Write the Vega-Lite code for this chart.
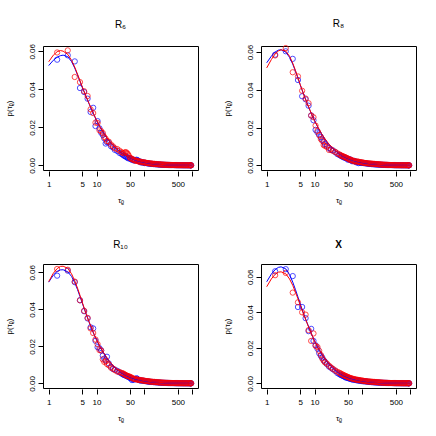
{
  "$schema": "https://vega.github.io/schema/vega-lite/v6.json",
  "padding": {"left": 4, "top": 18, "right": 0, "bottom": 0},
  "bounds": "flush",
  "spacing": {"row": 94, "column": 63},
  "columns": 2,
  "config": {
    "font": "Liberation Sans",
    "view": {"stroke": "#000000", "strokeWidth": 1},
    "axis": {"domain": false, "grid": false, "tickColor": "#000000", "tickSize": 5, "tickWidth": 1, "labelColor": "#000000", "labelFontSize": 8, "titleFontSize": 8, "titleFontWeight": "normal", "titleColor": "#000000", "labelFont": "Liberation Sans", "titleFont": "Liberation Sans", "labelOverlap": false, "labelFlush": false},
    "title": {"fontSize": 10, "fontWeight": "normal", "color": "#000000", "offset": 14, "font": "Liberation Sans"},
    "point": {"shape": "circle", "filled": false, "strokeWidth": 1, "size": 28, "clip": true},
    "line": {"strokeWidth": 1, "clip": true}
  },
  "datasets": {
    "p1": [
      {"s":"B","x":1.5,"y":0.0556},{"s":"B","x":2.5,"y":0.0579},{"s":"B","x":3.5,"y":0.0547},{"s":"B","x":4.5,"y":0.0407},{"s":"B","x":5.5,"y":0.0386},{"s":"B","x":6.5,"y":0.0351},{"s":"B","x":7.5,"y":0.0281},{"s":"B","x":8.5,"y":0.0303},{"s":"B","x":9.5,"y":0.0207},{"s":"B","x":10.5,"y":0.0233},{"s":"B","x":11.5,"y":0.0195},{"s":"B","x":12.5,"y":0.0172},{"s":"B","x":13.5,"y":0.016},{"s":"B","x":14.5,"y":0.0142},{"s":"B","x":15.5,"y":0.0115},{"s":"B","x":16.5,"y":0.0122},{"s":"B","x":18,"y":0.012},{"s":"B","x":20,"y":0.0101},{"s":"B","x":22,"y":0.0095},{"s":"B","x":24,"y":0.0082},{"s":"B","x":27,"y":0.0076},{"s":"B","x":30,"y":0.0066},{"s":"B","x":33,"y":0.0061},{"s":"B","x":37,"y":0.0052},{"s":"B","x":41,"y":0.0046},{"s":"B","x":45,"y":0.0038},{"s":"B","x":50,"y":0.0034},{"s":"B","x":55,"y":0.0029},{"s":"B","x":61,"y":0.0025},{"s":"B","x":68,"y":0.003},{"s":"B","x":75,"y":0.0024},{"s":"B","x":83,"y":0.0016},{"s":"B","x":92,"y":0.0014},{"s":"B","x":102,"y":0.0012},{"s":"B","x":113,"y":0.0011},{"s":"B","x":125,"y":0.0009},{"s":"B","x":139,"y":0.0008},{"s":"B","x":154,"y":0.0007},{"s":"B","x":171,"y":0.0006},{"s":"B","x":190,"y":0.0005},{"s":"B","x":211,"y":0.0004},{"s":"B","x":234,"y":0.00035},{"s":"B","x":260,"y":0.0003},{"s":"B","x":289,"y":0.00026},{"s":"B","x":321,"y":0.00022},{"s":"B","x":356,"y":0.00018},{"s":"B","x":395,"y":0.00015},{"s":"B","x":438,"y":0.00012},{"s":"B","x":486,"y":0.0001},{"s":"B","x":540,"y":0.00009},{"s":"B","x":599,"y":0.00007},{"s":"B","x":665,"y":0.00006},{"s":"B","x":738,"y":0.00005},{"s":"B","x":819,"y":0.00004},{"s":"B","x":909,"y":0.00004},{"s":"B","x":950,"y":0.00003},
      {"s":"B","x":35,"y":0.0057},{"s":"B","x":39,"y":0.0049},{"s":"B","x":43,"y":0.0043},{"s":"B","x":47,"y":0.004},{"s":"B","x":52,"y":0.0036},{"s":"B","x":58,"y":0.0031},{"s":"B","x":64,"y":0.0027},{"s":"B","x":71,"y":0.0028},{"s":"B","x":79,"y":0.0021},{"s":"B","x":87,"y":0.0018},{"s":"B","x":97,"y":0.0016},{"s":"B","x":107,"y":0.0013},{"s":"B","x":119,"y":0.0011},{"s":"B","x":132,"y":0.00095},{"s":"B","x":146,"y":0.0008},{"s":"B","x":162,"y":0.0007},{"s":"B","x":180,"y":0.0006},{"s":"B","x":200,"y":0.0005},{"s":"B","x":222,"y":0.00042},{"s":"B","x":247,"y":0.00035},{"s":"B","x":274,"y":0.0003},{"s":"B","x":305,"y":0.00025},{"s":"B","x":338,"y":0.0002},{"s":"B","x":375,"y":0.00017},{"s":"B","x":416,"y":0.00014},{"s":"B","x":462,"y":0.00012},{"s":"B","x":513,"y":0.0001},{"s":"B","x":569,"y":0.00008},{"s":"B","x":632,"y":0.00007},{"s":"B","x":701,"y":0.00006},{"s":"B","x":778,"y":0.00005},{"s":"B","x":864,"y":0.00004},{"s":"B","x":930,"y":0.00004},
      {"s":"R","x":1.5,"y":0.0594},{"s":"R","x":2.5,"y":0.0605},{"s":"R","x":3.5,"y":0.0465},{"s":"R","x":4.5,"y":0.0438},{"s":"R","x":5.5,"y":0.039},{"s":"R","x":6.5,"y":0.0365},{"s":"R","x":7.5,"y":0.0295},{"s":"R","x":8.5,"y":0.0275},{"s":"R","x":9.5,"y":0.0225},{"s":"R","x":10.5,"y":0.0223},{"s":"R","x":11.5,"y":0.0185},{"s":"R","x":12.5,"y":0.018},{"s":"R","x":13.5,"y":0.017},{"s":"R","x":14.5,"y":0.015},{"s":"R","x":15.5,"y":0.014},{"s":"R","x":16.5,"y":0.0128},{"s":"R","x":18,"y":0.0125},{"s":"R","x":20,"y":0.011},{"s":"R","x":22,"y":0.01},{"s":"R","x":24,"y":0.009},{"s":"R","x":27,"y":0.0086},{"s":"R","x":30,"y":0.0078},{"s":"R","x":33,"y":0.007},{"s":"R","x":37,"y":0.0064},{"s":"R","x":41,"y":0.007},{"s":"R","x":45,"y":0.006},{"s":"R","x":50,"y":0.004},{"s":"R","x":55,"y":0.0033},{"s":"R","x":61,"y":0.0027},{"s":"R","x":68,"y":0.0024},{"s":"R","x":75,"y":0.0021},{"s":"R","x":83,"y":0.0019},{"s":"R","x":92,"y":0.0016},{"s":"R","x":102,"y":0.0015},{"s":"R","x":113,"y":0.0013},{"s":"R","x":125,"y":0.0011},{"s":"R","x":139,"y":0.001},{"s":"R","x":154,"y":0.0008},{"s":"R","x":171,"y":0.0007},{"s":"R","x":190,"y":0.0006},{"s":"R","x":211,"y":0.0005},{"s":"R","x":234,"y":0.00045},{"s":"R","x":260,"y":0.00038},{"s":"R","x":289,"y":0.0003},{"s":"R","x":321,"y":0.00026},{"s":"R","x":356,"y":0.00022},{"s":"R","x":395,"y":0.00018},{"s":"R","x":438,"y":0.00015},{"s":"R","x":486,"y":0.00013},{"s":"R","x":540,"y":0.00011},{"s":"R","x":599,"y":0.00009},{"s":"R","x":665,"y":0.00008},{"s":"R","x":738,"y":0.00007},{"s":"R","x":819,"y":0.00006},{"s":"R","x":909,"y":0.00005},{"s":"R","x":950,"y":0.00005},
      {"s":"R","x":35,"y":0.0066},{"s":"R","x":39,"y":0.0068},{"s":"R","x":43,"y":0.0065},{"s":"R","x":47,"y":0.0052},{"s":"R","x":52,"y":0.0038},{"s":"R","x":58,"y":0.0031},{"s":"R","x":64,"y":0.0026},{"s":"R","x":71,"y":0.0023},{"s":"R","x":79,"y":0.002},{"s":"R","x":87,"y":0.0018},{"s":"R","x":97,"y":0.0016},{"s":"R","x":107,"y":0.0014},{"s":"R","x":119,"y":0.0012},{"s":"R","x":132,"y":0.001},{"s":"R","x":146,"y":0.0009},{"s":"R","x":162,"y":0.0008},{"s":"R","x":180,"y":0.0007},{"s":"R","x":200,"y":0.0006},{"s":"R","x":222,"y":0.0005},{"s":"R","x":247,"y":0.0004},{"s":"R","x":274,"y":0.00034},{"s":"R","x":305,"y":0.00028},{"s":"R","x":338,"y":0.00024},{"s":"R","x":375,"y":0.0002},{"s":"R","x":416,"y":0.00017},{"s":"R","x":462,"y":0.00014},{"s":"R","x":513,"y":0.00012},{"s":"R","x":569,"y":0.0001},{"s":"R","x":632,"y":0.00009},{"s":"R","x":701,"y":0.00008},{"s":"R","x":778,"y":0.00007},{"s":"R","x":864,"y":0.00006},{"s":"R","x":930,"y":0.00005}
    ],
    "c1": [
      {"s":"B","x":1,"y":0.0525},{"s":"B","x":1.25,"y":0.0553},{"s":"B","x":1.5,"y":0.0569},{"s":"B","x":1.75,"y":0.0577},{"s":"B","x":2,"y":0.058},{"s":"B","x":2.5,"y":0.0572},{"s":"B","x":3,"y":0.0546},{"s":"B","x":3.5,"y":0.0512},{"s":"B","x":4,"y":0.0476},{"s":"B","x":4.5,"y":0.0442},{"s":"B","x":5,"y":0.0412},{"s":"B","x":6,"y":0.0363},{"s":"B","x":7,"y":0.0323},{"s":"B","x":8,"y":0.029},{"s":"B","x":9,"y":0.0261},{"s":"B","x":10,"y":0.0235},{"s":"B","x":12,"y":0.0199},{"s":"B","x":14,"y":0.017},{"s":"B","x":16,"y":0.0148},{"s":"B","x":18,"y":0.0131},{"s":"B","x":20,"y":0.0117},{"s":"B","x":25,"y":0.0091},{"s":"B","x":30,"y":0.0073},{"s":"B","x":40,"y":0.0051},{"s":"B","x":50,"y":0.0039},{"s":"B","x":60,"y":0.0031},{"s":"B","x":80,"y":0.0021},{"s":"B","x":100,"y":0.00155},{"s":"B","x":150,"y":0.00085},{"s":"B","x":200,"y":0.00055},{"s":"B","x":300,"y":0.00028},{"s":"B","x":500,"y":0.00012},{"s":"B","x":700,"y":0.00007},{"s":"B","x":1000,"y":0.00004},
      {"s":"R","x":1,"y":0.0545},{"s":"R","x":1.25,"y":0.058},{"s":"R","x":1.5,"y":0.0598},{"s":"R","x":1.75,"y":0.0604},{"s":"R","x":2,"y":0.0601},{"s":"R","x":2.5,"y":0.0584},{"s":"R","x":3,"y":0.0553},{"s":"R","x":3.5,"y":0.0517},{"s":"R","x":4,"y":0.048},{"s":"R","x":4.5,"y":0.0446},{"s":"R","x":5,"y":0.0415},{"s":"R","x":6,"y":0.0365},{"s":"R","x":7,"y":0.0325},{"s":"R","x":8,"y":0.0292},{"s":"R","x":9,"y":0.0263},{"s":"R","x":10,"y":0.0237},{"s":"R","x":12,"y":0.0201},{"s":"R","x":14,"y":0.0172},{"s":"R","x":16,"y":0.015},{"s":"R","x":18,"y":0.0133},{"s":"R","x":20,"y":0.0119},{"s":"R","x":25,"y":0.0093},{"s":"R","x":30,"y":0.0075},{"s":"R","x":40,"y":0.0053},{"s":"R","x":50,"y":0.0041},{"s":"R","x":60,"y":0.0033},{"s":"R","x":80,"y":0.0023},{"s":"R","x":100,"y":0.0017},{"s":"R","x":150,"y":0.00095},{"s":"R","x":200,"y":0.0006},{"s":"R","x":300,"y":0.0003},{"s":"R","x":500,"y":0.00014},{"s":"R","x":700,"y":0.00008},{"s":"R","x":1000,"y":0.00005}
    ],
    "p2": [
      {"s":"B","x":1.5,"y":0.0586},{"s":"B","x":2.5,"y":0.0604},{"s":"B","x":3.5,"y":0.0564},{"s":"B","x":4.5,"y":0.0452},{"s":"B","x":5.5,"y":0.0366},{"s":"B","x":6.5,"y":0.035},{"s":"B","x":7.5,"y":0.0316},{"s":"B","x":8.5,"y":0.0264},{"s":"B","x":9.5,"y":0.0239},{"s":"B","x":10.5,"y":0.0188},{"s":"B","x":11.5,"y":0.0175},{"s":"B","x":12.5,"y":0.0163},{"s":"B","x":13.5,"y":0.015},{"s":"B","x":14.5,"y":0.0136},{"s":"B","x":15.5,"y":0.0125},{"s":"B","x":16.5,"y":0.0113},{"s":"B","x":18,"y":0.0104},{"s":"B","x":20,"y":0.0092},{"s":"B","x":22,"y":0.0082},{"s":"B","x":24,"y":0.008},{"s":"B","x":27,"y":0.007},{"s":"B","x":30,"y":0.006},{"s":"B","x":33,"y":0.0055},{"s":"B","x":37,"y":0.0048},{"s":"B","x":41,"y":0.0042},{"s":"B","x":45,"y":0.004},{"s":"B","x":50,"y":0.003},{"s":"B","x":55,"y":0.0032},{"s":"B","x":61,"y":0.0022},{"s":"B","x":68,"y":0.0024},{"s":"B","x":75,"y":0.0016},{"s":"B","x":83,"y":0.0012},{"s":"B","x":92,"y":0.0015},{"s":"B","x":102,"y":0.0013},{"s":"B","x":113,"y":0.0011},{"s":"B","x":125,"y":0.001},{"s":"B","x":139,"y":0.0008},{"s":"B","x":154,"y":0.0007},{"s":"B","x":171,"y":0.0006},{"s":"B","x":190,"y":0.0005},{"s":"B","x":211,"y":0.00045},{"s":"B","x":234,"y":0.0004},{"s":"B","x":260,"y":0.00033},{"s":"B","x":289,"y":0.00028},{"s":"B","x":321,"y":0.00024},{"s":"B","x":356,"y":0.0002},{"s":"B","x":395,"y":0.00016},{"s":"B","x":438,"y":0.00013},{"s":"B","x":486,"y":0.00011},{"s":"B","x":540,"y":0.00009},{"s":"B","x":599,"y":0.00008},{"s":"B","x":665,"y":0.00006},{"s":"B","x":738,"y":0.00005},{"s":"B","x":819,"y":0.00004},{"s":"B","x":909,"y":0.00004},{"s":"B","x":950,"y":0.00003},
      {"s":"B","x":35,"y":0.0052},{"s":"B","x":39,"y":0.0046},{"s":"B","x":43,"y":0.0041},{"s":"B","x":47,"y":0.0036},{"s":"B","x":52,"y":0.0033},{"s":"B","x":58,"y":0.0027},{"s":"B","x":64,"y":0.0023},{"s":"B","x":71,"y":0.002},{"s":"B","x":79,"y":0.0018},{"s":"B","x":87,"y":0.0014},{"s":"B","x":97,"y":0.0013},{"s":"B","x":107,"y":0.0012},{"s":"B","x":119,"y":0.0011},{"s":"B","x":132,"y":0.0009},{"s":"B","x":146,"y":0.0008},{"s":"B","x":162,"y":0.0007},{"s":"B","x":180,"y":0.0006},{"s":"B","x":200,"y":0.0005},{"s":"B","x":222,"y":0.00043},{"s":"B","x":247,"y":0.00036},{"s":"B","x":274,"y":0.0003},{"s":"B","x":305,"y":0.00026},{"s":"B","x":338,"y":0.00022},{"s":"B","x":375,"y":0.00018},{"s":"B","x":416,"y":0.00015},{"s":"B","x":462,"y":0.00012},{"s":"B","x":513,"y":0.0001},{"s":"B","x":569,"y":0.00009},{"s":"B","x":632,"y":0.00007},{"s":"B","x":701,"y":0.00006},{"s":"B","x":778,"y":0.00005},{"s":"B","x":864,"y":0.00004},{"s":"B","x":930,"y":0.00004},
      {"s":"R","x":1.5,"y":0.0582},{"s":"R","x":2.5,"y":0.0621},{"s":"R","x":3.5,"y":0.0493},{"s":"R","x":4.5,"y":0.0471},{"s":"R","x":5.5,"y":0.0395},{"s":"R","x":6.5,"y":0.0354},{"s":"R","x":7.5,"y":0.0329},{"s":"R","x":8.5,"y":0.0264},{"s":"R","x":9.5,"y":0.0255},{"s":"R","x":10.5,"y":0.0211},{"s":"R","x":11.5,"y":0.0182},{"s":"R","x":12.5,"y":0.016},{"s":"R","x":13.5,"y":0.014},{"s":"R","x":14.5,"y":0.013},{"s":"R","x":15.5,"y":0.0108},{"s":"R","x":16.5,"y":0.0104},{"s":"R","x":18,"y":0.0098},{"s":"R","x":20,"y":0.0082},{"s":"R","x":22,"y":0.0085},{"s":"R","x":24,"y":0.0077},{"s":"R","x":27,"y":0.0072},{"s":"R","x":30,"y":0.0064},{"s":"R","x":33,"y":0.0058},{"s":"R","x":37,"y":0.005},{"s":"R","x":41,"y":0.0046},{"s":"R","x":45,"y":0.0041},{"s":"R","x":50,"y":0.0036},{"s":"R","x":55,"y":0.0029},{"s":"R","x":61,"y":0.0026},{"s":"R","x":68,"y":0.0021},{"s":"R","x":75,"y":0.002},{"s":"R","x":83,"y":0.0019},{"s":"R","x":92,"y":0.0017},{"s":"R","x":102,"y":0.0015},{"s":"R","x":113,"y":0.0013},{"s":"R","x":125,"y":0.0011},{"s":"R","x":139,"y":0.001},{"s":"R","x":154,"y":0.0009},{"s":"R","x":171,"y":0.0008},{"s":"R","x":190,"y":0.0007},{"s":"R","x":211,"y":0.0006},{"s":"R","x":234,"y":0.0005},{"s":"R","x":260,"y":0.00042},{"s":"R","x":289,"y":0.00035},{"s":"R","x":321,"y":0.0003},{"s":"R","x":356,"y":0.00025},{"s":"R","x":395,"y":0.0002},{"s":"R","x":438,"y":0.00017},{"s":"R","x":486,"y":0.00014},{"s":"R","x":540,"y":0.00012},{"s":"R","x":599,"y":0.0001},{"s":"R","x":665,"y":0.00009},{"s":"R","x":738,"y":0.00008},{"s":"R","x":819,"y":0.00007},{"s":"R","x":909,"y":0.00006},{"s":"R","x":950,"y":0.00006},
      {"s":"R","x":35,"y":0.0055},{"s":"R","x":39,"y":0.0049},{"s":"R","x":43,"y":0.0044},{"s":"R","x":47,"y":0.004},{"s":"R","x":52,"y":0.0034},{"s":"R","x":58,"y":0.003},{"s":"R","x":64,"y":0.0025},{"s":"R","x":71,"y":0.0022},{"s":"R","x":79,"y":0.0021},{"s":"R","x":87,"y":0.0018},{"s":"R","x":97,"y":0.0016},{"s":"R","x":107,"y":0.0014},{"s":"R","x":119,"y":0.0012},{"s":"R","x":132,"y":0.0011},{"s":"R","x":146,"y":0.001},{"s":"R","x":162,"y":0.0009},{"s":"R","x":180,"y":0.0008},{"s":"R","x":200,"y":0.0007},{"s":"R","x":222,"y":0.0006},{"s":"R","x":247,"y":0.0005},{"s":"R","x":274,"y":0.0004},{"s":"R","x":305,"y":0.00033},{"s":"R","x":338,"y":0.00028},{"s":"R","x":375,"y":0.00023},{"s":"R","x":416,"y":0.00019},{"s":"R","x":462,"y":0.00016},{"s":"R","x":513,"y":0.00013},{"s":"R","x":569,"y":0.00011},{"s":"R","x":632,"y":0.0001},{"s":"R","x":701,"y":0.00009},{"s":"R","x":778,"y":0.00008},{"s":"R","x":864,"y":0.00007},{"s":"R","x":930,"y":0.00006}
    ],
    "c2": [
      {"s":"B","x":1,"y":0.0543},{"s":"B","x":1.25,"y":0.0578},{"s":"B","x":1.5,"y":0.06},{"s":"B","x":1.75,"y":0.061},{"s":"B","x":2,"y":0.0612},{"s":"B","x":2.5,"y":0.06},{"s":"B","x":3,"y":0.0572},{"s":"B","x":3.5,"y":0.0536},{"s":"B","x":4,"y":0.0498},{"s":"B","x":4.5,"y":0.0461},{"s":"B","x":5,"y":0.0427},{"s":"B","x":6,"y":0.0372},{"s":"B","x":7,"y":0.0328},{"s":"B","x":8,"y":0.0292},{"s":"B","x":9,"y":0.0262},{"s":"B","x":10,"y":0.0236},{"s":"B","x":12,"y":0.0197},{"s":"B","x":14,"y":0.0167},{"s":"B","x":16,"y":0.0144},{"s":"B","x":18,"y":0.0126},{"s":"B","x":20,"y":0.0111},{"s":"B","x":25,"y":0.0085},{"s":"B","x":30,"y":0.0068},{"s":"B","x":40,"y":0.0047},{"s":"B","x":50,"y":0.0036},{"s":"B","x":60,"y":0.0028},{"s":"B","x":80,"y":0.0019},{"s":"B","x":100,"y":0.0014},{"s":"B","x":150,"y":0.0008},{"s":"B","x":200,"y":0.0005},{"s":"B","x":300,"y":0.00026},{"s":"B","x":500,"y":0.00011},{"s":"B","x":700,"y":0.00006},{"s":"B","x":1000,"y":0.00004},
      {"s":"R","x":1,"y":0.0516},{"s":"R","x":1.25,"y":0.056},{"s":"R","x":1.5,"y":0.059},{"s":"R","x":1.75,"y":0.0606},{"s":"R","x":2,"y":0.0612},{"s":"R","x":2.5,"y":0.0605},{"s":"R","x":3,"y":0.0578},{"s":"R","x":3.5,"y":0.0541},{"s":"R","x":4,"y":0.0502},{"s":"R","x":4.5,"y":0.0464},{"s":"R","x":5,"y":0.0429},{"s":"R","x":6,"y":0.0373},{"s":"R","x":7,"y":0.0329},{"s":"R","x":8,"y":0.0293},{"s":"R","x":9,"y":0.0263},{"s":"R","x":10,"y":0.0237},{"s":"R","x":12,"y":0.0198},{"s":"R","x":14,"y":0.0168},{"s":"R","x":16,"y":0.0146},{"s":"R","x":18,"y":0.0128},{"s":"R","x":20,"y":0.0113},{"s":"R","x":25,"y":0.0087},{"s":"R","x":30,"y":0.007},{"s":"R","x":40,"y":0.0049},{"s":"R","x":50,"y":0.0038},{"s":"R","x":60,"y":0.003},{"s":"R","x":80,"y":0.0021},{"s":"R","x":100,"y":0.0016},{"s":"R","x":150,"y":0.0009},{"s":"R","x":200,"y":0.0006},{"s":"R","x":300,"y":0.0003},{"s":"R","x":500,"y":0.00014},{"s":"R","x":700,"y":0.00009},{"s":"R","x":1000,"y":0.00006}
    ],
    "p3": [
      {"s":"B","x":1.5,"y":0.0582},{"s":"B","x":2.5,"y":0.0609},{"s":"B","x":3.5,"y":0.0547},{"s":"B","x":4.5,"y":0.0449},{"s":"B","x":5.5,"y":0.039},{"s":"B","x":6.5,"y":0.0351},{"s":"B","x":7.5,"y":0.0303},{"s":"B","x":8.5,"y":0.0297},{"s":"B","x":9.5,"y":0.023},{"s":"B","x":10.5,"y":0.0196},{"s":"B","x":11.5,"y":0.019},{"s":"B","x":12.5,"y":0.0178},{"s":"B","x":13.5,"y":0.015},{"s":"B","x":14.5,"y":0.0134},{"s":"B","x":15.5,"y":0.0125},{"s":"B","x":16.5,"y":0.0144},{"s":"B","x":18,"y":0.0108},{"s":"B","x":20,"y":0.009},{"s":"B","x":22,"y":0.0078},{"s":"B","x":24,"y":0.0075},{"s":"B","x":27,"y":0.0068},{"s":"B","x":30,"y":0.006},{"s":"B","x":33,"y":0.0054},{"s":"B","x":37,"y":0.0046},{"s":"B","x":41,"y":0.0042},{"s":"B","x":45,"y":0.0037},{"s":"B","x":50,"y":0.003},{"s":"B","x":55,"y":0.0018},{"s":"B","x":61,"y":0.002},{"s":"B","x":68,"y":0.0028},{"s":"B","x":75,"y":0.0019},{"s":"B","x":83,"y":0.0016},{"s":"B","x":92,"y":0.0015},{"s":"B","x":102,"y":0.0013},{"s":"B","x":113,"y":0.0011},{"s":"B","x":125,"y":0.0009},{"s":"B","x":139,"y":0.0008},{"s":"B","x":154,"y":0.0007},{"s":"B","x":171,"y":0.0006},{"s":"B","x":190,"y":0.0005},{"s":"B","x":211,"y":0.0004},{"s":"B","x":234,"y":0.00035},{"s":"B","x":260,"y":0.0003},{"s":"B","x":289,"y":0.00025},{"s":"B","x":321,"y":0.0002},{"s":"B","x":356,"y":0.00017},{"s":"B","x":395,"y":0.00014},{"s":"B","x":438,"y":0.00012},{"s":"B","x":486,"y":0.0001},{"s":"B","x":540,"y":0.00008},{"s":"B","x":599,"y":0.00007},{"s":"B","x":665,"y":0.00006},{"s":"B","x":738,"y":0.00005},{"s":"B","x":819,"y":0.00004},{"s":"B","x":909,"y":0.00003},{"s":"B","x":950,"y":0.00003},
      {"s":"B","x":35,"y":0.005},{"s":"B","x":39,"y":0.0044},{"s":"B","x":43,"y":0.0039},{"s":"B","x":47,"y":0.0034},{"s":"B","x":52,"y":0.0027},{"s":"B","x":58,"y":0.0022},{"s":"B","x":64,"y":0.0024},{"s":"B","x":71,"y":0.0025},{"s":"B","x":79,"y":0.0017},{"s":"B","x":87,"y":0.0015},{"s":"B","x":97,"y":0.0014},{"s":"B","x":107,"y":0.0012},{"s":"B","x":119,"y":0.001},{"s":"B","x":132,"y":0.0009},{"s":"B","x":146,"y":0.0008},{"s":"B","x":162,"y":0.0007},{"s":"B","x":180,"y":0.0006},{"s":"B","x":200,"y":0.0005},{"s":"B","x":222,"y":0.0004},{"s":"B","x":247,"y":0.00033},{"s":"B","x":274,"y":0.00028},{"s":"B","x":305,"y":0.00023},{"s":"B","x":338,"y":0.00019},{"s":"B","x":375,"y":0.00016},{"s":"B","x":416,"y":0.00013},{"s":"B","x":462,"y":0.00011},{"s":"B","x":513,"y":0.00009},{"s":"B","x":569,"y":0.00008},{"s":"B","x":632,"y":0.00007},{"s":"B","x":701,"y":0.00006},{"s":"B","x":778,"y":0.00005},{"s":"B","x":864,"y":0.00004},{"s":"B","x":930,"y":0.00003},
      {"s":"R","x":1.5,"y":0.0618},{"s":"R","x":2.5,"y":0.0614},{"s":"R","x":3.5,"y":0.055},{"s":"R","x":4.5,"y":0.0449},{"s":"R","x":5.5,"y":0.0392},{"s":"R","x":6.5,"y":0.0354},{"s":"R","x":7.5,"y":0.0297},{"s":"R","x":8.5,"y":0.0272},{"s":"R","x":9.5,"y":0.0237},{"s":"R","x":10.5,"y":0.0212},{"s":"R","x":11.5,"y":0.018},{"s":"R","x":12.5,"y":0.0178},{"s":"R","x":13.5,"y":0.013},{"s":"R","x":14.5,"y":0.0116},{"s":"R","x":15.5,"y":0.012},{"s":"R","x":16.5,"y":0.0105},{"s":"R","x":18,"y":0.0098},{"s":"R","x":20,"y":0.0085},{"s":"R","x":22,"y":0.008},{"s":"R","x":24,"y":0.0072},{"s":"R","x":27,"y":0.0064},{"s":"R","x":30,"y":0.0062},{"s":"R","x":33,"y":0.0057},{"s":"R","x":37,"y":0.0052},{"s":"R","x":41,"y":0.0044},{"s":"R","x":45,"y":0.004},{"s":"R","x":50,"y":0.0036},{"s":"R","x":55,"y":0.003},{"s":"R","x":61,"y":0.0024},{"s":"R","x":68,"y":0.0022},{"s":"R","x":75,"y":0.0019},{"s":"R","x":83,"y":0.0018},{"s":"R","x":92,"y":0.0016},{"s":"R","x":102,"y":0.0014},{"s":"R","x":113,"y":0.0012},{"s":"R","x":125,"y":0.0011},{"s":"R","x":139,"y":0.0009},{"s":"R","x":154,"y":0.0008},{"s":"R","x":171,"y":0.0007},{"s":"R","x":190,"y":0.0006},{"s":"R","x":211,"y":0.0005},{"s":"R","x":234,"y":0.00045},{"s":"R","x":260,"y":0.00038},{"s":"R","x":289,"y":0.00032},{"s":"R","x":321,"y":0.00027},{"s":"R","x":356,"y":0.00023},{"s":"R","x":395,"y":0.00019},{"s":"R","x":438,"y":0.00016},{"s":"R","x":486,"y":0.00014},{"s":"R","x":540,"y":0.00012},{"s":"R","x":599,"y":0.0001},{"s":"R","x":665,"y":0.00009},{"s":"R","x":738,"y":0.00008},{"s":"R","x":819,"y":0.00007},{"s":"R","x":909,"y":0.00006},{"s":"R","x":950,"y":0.00006},
      {"s":"R","x":35,"y":0.0055},{"s":"R","x":39,"y":0.0048},{"s":"R","x":43,"y":0.0042},{"s":"R","x":47,"y":0.0038},{"s":"R","x":52,"y":0.0033},{"s":"R","x":58,"y":0.0027},{"s":"R","x":64,"y":0.0023},{"s":"R","x":71,"y":0.0021},{"s":"R","x":79,"y":0.0018},{"s":"R","x":87,"y":0.0017},{"s":"R","x":97,"y":0.0015},{"s":"R","x":107,"y":0.0013},{"s":"R","x":119,"y":0.0012},{"s":"R","x":132,"y":0.001},{"s":"R","x":146,"y":0.0009},{"s":"R","x":162,"y":0.0008},{"s":"R","x":180,"y":0.0007},{"s":"R","x":200,"y":0.0006},{"s":"R","x":222,"y":0.0005},{"s":"R","x":247,"y":0.00042},{"s":"R","x":274,"y":0.00035},{"s":"R","x":305,"y":0.0003},{"s":"R","x":338,"y":0.00025},{"s":"R","x":375,"y":0.00021},{"s":"R","x":416,"y":0.00018},{"s":"R","x":462,"y":0.00015},{"s":"R","x":513,"y":0.00013},{"s":"R","x":569,"y":0.00011},{"s":"R","x":632,"y":0.0001},{"s":"R","x":701,"y":0.00009},{"s":"R","x":778,"y":0.00008},{"s":"R","x":864,"y":0.00007},{"s":"R","x":930,"y":0.00006}
    ],
    "c3": [
      {"s":"B","x":1,"y":0.0547},{"s":"B","x":1.25,"y":0.0585},{"s":"B","x":1.5,"y":0.0605},{"s":"B","x":1.75,"y":0.0613},{"s":"B","x":2,"y":0.0614},{"s":"B","x":2.5,"y":0.0603},{"s":"B","x":3,"y":0.0578},{"s":"B","x":3.5,"y":0.0544},{"s":"B","x":4,"y":0.0507},{"s":"B","x":4.5,"y":0.047},{"s":"B","x":5,"y":0.0436},{"s":"B","x":6,"y":0.0377},{"s":"B","x":7,"y":0.033},{"s":"B","x":8,"y":0.0292},{"s":"B","x":9,"y":0.026},{"s":"B","x":10,"y":0.0234},{"s":"B","x":12,"y":0.0193},{"s":"B","x":14,"y":0.0163},{"s":"B","x":16,"y":0.014},{"s":"B","x":18,"y":0.0122},{"s":"B","x":20,"y":0.0107},{"s":"B","x":25,"y":0.008},{"s":"B","x":30,"y":0.0064},{"s":"B","x":40,"y":0.0044},{"s":"B","x":50,"y":0.0033},{"s":"B","x":60,"y":0.0026},{"s":"B","x":80,"y":0.0018},{"s":"B","x":100,"y":0.0013},{"s":"B","x":150,"y":0.0007},{"s":"B","x":200,"y":0.00045},{"s":"B","x":300,"y":0.00023},{"s":"B","x":500,"y":0.0001},{"s":"B","x":700,"y":0.00006},{"s":"B","x":1000,"y":0.00003},
      {"s":"R","x":1,"y":0.055},{"s":"R","x":1.25,"y":0.0595},{"s":"R","x":1.5,"y":0.062},{"s":"R","x":1.75,"y":0.0632},{"s":"R","x":2,"y":0.0633},{"s":"R","x":2.5,"y":0.0622},{"s":"R","x":3,"y":0.0592},{"s":"R","x":3.5,"y":0.0554},{"s":"R","x":4,"y":0.0515},{"s":"R","x":4.5,"y":0.0476},{"s":"R","x":5,"y":0.044},{"s":"R","x":6,"y":0.0379},{"s":"R","x":7,"y":0.0332},{"s":"R","x":8,"y":0.0294},{"s":"R","x":9,"y":0.0262},{"s":"R","x":10,"y":0.0236},{"s":"R","x":12,"y":0.0196},{"s":"R","x":14,"y":0.0166},{"s":"R","x":16,"y":0.0143},{"s":"R","x":18,"y":0.0125},{"s":"R","x":20,"y":0.011},{"s":"R","x":25,"y":0.0083},{"s":"R","x":30,"y":0.0067},{"s":"R","x":40,"y":0.0047},{"s":"R","x":50,"y":0.0036},{"s":"R","x":60,"y":0.0029},{"s":"R","x":80,"y":0.002},{"s":"R","x":100,"y":0.0015},{"s":"R","x":150,"y":0.0008},{"s":"R","x":200,"y":0.00055},{"s":"R","x":300,"y":0.00028},{"s":"R","x":500,"y":0.00013},{"s":"R","x":700,"y":0.00008},{"s":"R","x":1000,"y":0.00005}
    ],
    "p4": [
      {"s":"B","x":1.5,"y":0.0631},{"s":"B","x":2.5,"y":0.0643},{"s":"B","x":3.5,"y":0.0604},{"s":"B","x":4.5,"y":0.043},{"s":"B","x":5.5,"y":0.043},{"s":"B","x":6.5,"y":0.0367},{"s":"B","x":7.5,"y":0.0294},{"s":"B","x":8.5,"y":0.0307},{"s":"B","x":9.5,"y":0.0239},{"s":"B","x":10.5,"y":0.0215},{"s":"B","x":11.5,"y":0.0195},{"s":"B","x":12.5,"y":0.017},{"s":"B","x":13.5,"y":0.0155},{"s":"B","x":14.5,"y":0.0146},{"s":"B","x":15.5,"y":0.013},{"s":"B","x":16.5,"y":0.0122},{"s":"B","x":18,"y":0.0109},{"s":"B","x":20,"y":0.0095},{"s":"B","x":22,"y":0.0088},{"s":"B","x":24,"y":0.008},{"s":"B","x":27,"y":0.007},{"s":"B","x":30,"y":0.0058},{"s":"B","x":33,"y":0.0052},{"s":"B","x":37,"y":0.0045},{"s":"B","x":41,"y":0.004},{"s":"B","x":45,"y":0.0033},{"s":"B","x":50,"y":0.003},{"s":"B","x":55,"y":0.0026},{"s":"B","x":61,"y":0.0022},{"s":"B","x":68,"y":0.0021},{"s":"B","x":75,"y":0.0018},{"s":"B","x":83,"y":0.0016},{"s":"B","x":92,"y":0.0014},{"s":"B","x":102,"y":0.0012},{"s":"B","x":113,"y":0.0011},{"s":"B","x":125,"y":0.001},{"s":"B","x":139,"y":0.0008},{"s":"B","x":154,"y":0.0007},{"s":"B","x":171,"y":0.0006},{"s":"B","x":190,"y":0.0005},{"s":"B","x":211,"y":0.00045},{"s":"B","x":234,"y":0.0004},{"s":"B","x":260,"y":0.00033},{"s":"B","x":289,"y":0.00028},{"s":"B","x":321,"y":0.00023},{"s":"B","x":356,"y":0.00019},{"s":"B","x":395,"y":0.00016},{"s":"B","x":438,"y":0.00013},{"s":"B","x":486,"y":0.00011},{"s":"B","x":540,"y":0.00009},{"s":"B","x":599,"y":0.00008},{"s":"B","x":665,"y":0.00006},{"s":"B","x":738,"y":0.00005},{"s":"B","x":819,"y":0.00004},{"s":"B","x":909,"y":0.00004},{"s":"B","x":950,"y":0.00003},
      {"s":"B","x":35,"y":0.0048},{"s":"B","x":39,"y":0.0042},{"s":"B","x":43,"y":0.0036},{"s":"B","x":47,"y":0.0032},{"s":"B","x":52,"y":0.0028},{"s":"B","x":58,"y":0.0024},{"s":"B","x":64,"y":0.0021},{"s":"B","x":71,"y":0.0019},{"s":"B","x":79,"y":0.0017},{"s":"B","x":87,"y":0.0015},{"s":"B","x":97,"y":0.0013},{"s":"B","x":107,"y":0.0012},{"s":"B","x":119,"y":0.0011},{"s":"B","x":132,"y":0.0009},{"s":"B","x":146,"y":0.0008},{"s":"B","x":162,"y":0.0007},{"s":"B","x":180,"y":0.0006},{"s":"B","x":200,"y":0.0005},{"s":"B","x":222,"y":0.00043},{"s":"B","x":247,"y":0.00036},{"s":"B","x":274,"y":0.0003},{"s":"B","x":305,"y":0.00026},{"s":"B","x":338,"y":0.00022},{"s":"B","x":375,"y":0.00018},{"s":"B","x":416,"y":0.00015},{"s":"B","x":462,"y":0.00012},{"s":"B","x":513,"y":0.0001},{"s":"B","x":569,"y":0.00009},{"s":"B","x":632,"y":0.00007},{"s":"B","x":701,"y":0.00006},{"s":"B","x":778,"y":0.00005},{"s":"B","x":864,"y":0.00004},{"s":"B","x":930,"y":0.00004},
      {"s":"R","x":1.5,"y":0.0609},{"s":"R","x":2.5,"y":0.0622},{"s":"R","x":3.5,"y":0.0511},{"s":"R","x":4.5,"y":0.0456},{"s":"R","x":5.5,"y":0.04},{"s":"R","x":6.5,"y":0.0387},{"s":"R","x":7.5,"y":0.03},{"s":"R","x":8.5,"y":0.0239},{"s":"R","x":9.5,"y":0.0281},{"s":"R","x":10.5,"y":0.0211},{"s":"R","x":11.5,"y":0.0205},{"s":"R","x":12.5,"y":0.0183},{"s":"R","x":13.5,"y":0.016},{"s":"R","x":14.5,"y":0.014},{"s":"R","x":15.5,"y":0.0128},{"s":"R","x":16.5,"y":0.0118},{"s":"R","x":18,"y":0.0112},{"s":"R","x":20,"y":0.01},{"s":"R","x":22,"y":0.009},{"s":"R","x":24,"y":0.0082},{"s":"R","x":27,"y":0.0073},{"s":"R","x":30,"y":0.0065},{"s":"R","x":33,"y":0.006},{"s":"R","x":37,"y":0.0052},{"s":"R","x":41,"y":0.0046},{"s":"R","x":45,"y":0.0041},{"s":"R","x":50,"y":0.0036},{"s":"R","x":55,"y":0.0031},{"s":"R","x":61,"y":0.0027},{"s":"R","x":68,"y":0.0024},{"s":"R","x":75,"y":0.0021},{"s":"R","x":83,"y":0.0019},{"s":"R","x":92,"y":0.0017},{"s":"R","x":102,"y":0.0015},{"s":"R","x":113,"y":0.0013},{"s":"R","x":125,"y":0.0011},{"s":"R","x":139,"y":0.001},{"s":"R","x":154,"y":0.0009},{"s":"R","x":171,"y":0.0008},{"s":"R","x":190,"y":0.0007},{"s":"R","x":211,"y":0.0006},{"s":"R","x":234,"y":0.0005},{"s":"R","x":260,"y":0.00042},{"s":"R","x":289,"y":0.00036},{"s":"R","x":321,"y":0.0003},{"s":"R","x":356,"y":0.00025},{"s":"R","x":395,"y":0.0002},{"s":"R","x":438,"y":0.00017},{"s":"R","x":486,"y":0.00015},{"s":"R","x":540,"y":0.00013},{"s":"R","x":599,"y":0.00011},{"s":"R","x":665,"y":0.0001},{"s":"R","x":738,"y":0.00008},{"s":"R","x":819,"y":0.00007},{"s":"R","x":909,"y":0.00006},{"s":"R","x":950,"y":0.00006},
      {"s":"R","x":35,"y":0.0056},{"s":"R","x":39,"y":0.0049},{"s":"R","x":43,"y":0.0043},{"s":"R","x":47,"y":0.0039},{"s":"R","x":52,"y":0.0033},{"s":"R","x":58,"y":0.0029},{"s":"R","x":64,"y":0.0025},{"s":"R","x":71,"y":0.0022},{"s":"R","x":79,"y":0.002},{"s":"R","x":87,"y":0.0018},{"s":"R","x":97,"y":0.0016},{"s":"R","x":107,"y":0.0014},{"s":"R","x":119,"y":0.0012},{"s":"R","x":132,"y":0.0011},{"s":"R","x":146,"y":0.001},{"s":"R","x":162,"y":0.0009},{"s":"R","x":180,"y":0.0008},{"s":"R","x":200,"y":0.0007},{"s":"R","x":222,"y":0.0006},{"s":"R","x":247,"y":0.0005},{"s":"R","x":274,"y":0.0004},{"s":"R","x":305,"y":0.00033},{"s":"R","x":338,"y":0.00028},{"s":"R","x":375,"y":0.00023},{"s":"R","x":416,"y":0.00019},{"s":"R","x":462,"y":0.00016},{"s":"R","x":513,"y":0.00013},{"s":"R","x":569,"y":0.00011},{"s":"R","x":632,"y":0.0001},{"s":"R","x":701,"y":0.00009},{"s":"R","x":778,"y":0.00008},{"s":"R","x":864,"y":0.00007},{"s":"R","x":930,"y":0.00006}
    ],
    "c4": [
      {"s":"B","x":1,"y":0.0572},{"s":"B","x":1.25,"y":0.0615},{"s":"B","x":1.5,"y":0.064},{"s":"B","x":1.75,"y":0.0653},{"s":"B","x":2,"y":0.0656},{"s":"B","x":2.5,"y":0.0645},{"s":"B","x":3,"y":0.0612},{"s":"B","x":3.5,"y":0.057},{"s":"B","x":4,"y":0.0527},{"s":"B","x":4.5,"y":0.0486},{"s":"B","x":5,"y":0.0449},{"s":"B","x":6,"y":0.0388},{"s":"B","x":7,"y":0.034},{"s":"B","x":8,"y":0.03},{"s":"B","x":9,"y":0.0266},{"s":"B","x":10,"y":0.0237},{"s":"B","x":12,"y":0.0195},{"s":"B","x":14,"y":0.0164},{"s":"B","x":16,"y":0.0141},{"s":"B","x":18,"y":0.0123},{"s":"B","x":20,"y":0.0108},{"s":"B","x":25,"y":0.0081},{"s":"B","x":30,"y":0.0064},{"s":"B","x":40,"y":0.0044},{"s":"B","x":50,"y":0.0033},{"s":"B","x":60,"y":0.0026},{"s":"B","x":80,"y":0.0018},{"s":"B","x":100,"y":0.0013},{"s":"B","x":150,"y":0.0007},{"s":"B","x":200,"y":0.00045},{"s":"B","x":300,"y":0.00023},{"s":"B","x":500,"y":0.0001},{"s":"B","x":700,"y":0.00006},{"s":"B","x":1000,"y":0.00003},
      {"s":"R","x":1,"y":0.0544},{"s":"R","x":1.25,"y":0.0588},{"s":"R","x":1.5,"y":0.0614},{"s":"R","x":1.75,"y":0.0626},{"s":"R","x":2,"y":0.0628},{"s":"R","x":2.5,"y":0.0617},{"s":"R","x":3,"y":0.0588},{"s":"R","x":3.5,"y":0.0552},{"s":"R","x":4,"y":0.0513},{"s":"R","x":4.5,"y":0.0476},{"s":"R","x":5,"y":0.0442},{"s":"R","x":6,"y":0.0384},{"s":"R","x":7,"y":0.0338},{"s":"R","x":8,"y":0.03},{"s":"R","x":9,"y":0.0268},{"s":"R","x":10,"y":0.024},{"s":"R","x":12,"y":0.0199},{"s":"R","x":14,"y":0.0168},{"s":"R","x":16,"y":0.0145},{"s":"R","x":18,"y":0.0127},{"s":"R","x":20,"y":0.0112},{"s":"R","x":25,"y":0.0085},{"s":"R","x":30,"y":0.0068},{"s":"R","x":40,"y":0.0047},{"s":"R","x":50,"y":0.0036},{"s":"R","x":60,"y":0.0029},{"s":"R","x":80,"y":0.002},{"s":"R","x":100,"y":0.0015},{"s":"R","x":150,"y":0.0008},{"s":"R","x":200,"y":0.00055},{"s":"R","x":300,"y":0.00028},{"s":"R","x":500,"y":0.00013},{"s":"R","x":700,"y":0.00008},{"s":"R","x":1000,"y":0.00005}
    ]
  },
  "concat": [
    {
      "title": {"text": "R₆"},
      "width": 155, "height": 124,
      "layer": [
        {"data": {"name": "p1"}, "mark": {"type": "point"},
         "encoding": {
           "x": {"field": "x", "type": "quantitative", "scale": {"type": "log", "domain": [0.76, 1318], "nice": false}, "axis": {"values": [1,5,10,50,100,500,1000], "labelExpr": "datum.value == 100 || datum.value == 1000 ? '' : format(datum.value, 'd')", "offset": 1, "labelPadding": 4, "titlePadding": 8, "title": "τᵨ"}},
           "y": {"field": "y", "type": "quantitative", "scale": {"domain": [-0.00242, 0.0628], "nice": false, "zero": false}, "axis": {"values": [0,0.01,0.02,0.03,0.04,0.05,0.06], "labelExpr": "round(datum.value*100) % 2 == 0 ? format(datum.value, '.2f') : ''", "labelAngle": -90, "labelAlign": "center", "labelBaseline": "bottom", "labelPadding": 2, "titlePadding": 15, "title": "p(τᵨ)"}},
           "color": {"field": "s", "type": "nominal", "scale": {"domain": ["B","R"], "range": ["#0000FF","#FF0000"]}, "legend": null},
           "order": {"field": "s", "type": "nominal"}
         }},
        {"data": {"name": "c1"}, "mark": {"type": "line"},
         "encoding": {
           "x": {"field": "x", "type": "quantitative"},
           "y": {"field": "y", "type": "quantitative"},
           "color": {"field": "s", "type": "nominal", "legend": null}
         }}
      ]
    },
    {
      "title": {"text": "R₈"},
      "width": 155, "height": 124,
      "layer": [
        {"data": {"name": "p2"}, "mark": {"type": "point"},
         "encoding": {
           "x": {"field": "x", "type": "quantitative", "scale": {"type": "log", "domain": [0.76, 1318], "nice": false}, "axis": {"values": [1,5,10,50,100,500,1000], "labelExpr": "datum.value == 100 || datum.value == 1000 ? '' : format(datum.value, 'd')", "offset": 1, "labelPadding": 4, "titlePadding": 8, "title": "τᵨ"}},
           "y": {"field": "y", "type": "quantitative", "scale": {"domain": [-0.00243, 0.0632], "nice": false, "zero": false}, "axis": {"values": [0,0.01,0.02,0.03,0.04,0.05,0.06], "labelExpr": "round(datum.value*100) % 2 == 0 ? format(datum.value, '.2f') : ''", "labelAngle": -90, "labelAlign": "center", "labelBaseline": "bottom", "labelPadding": 2, "titlePadding": 15, "title": "p(τᵨ)"}},
           "color": {"field": "s", "type": "nominal", "scale": {"domain": ["B","R"], "range": ["#0000FF","#FF0000"]}, "legend": null},
           "order": {"field": "s", "type": "nominal"}
         }},
        {"data": {"name": "c2"}, "mark": {"type": "line"},
         "encoding": {
           "x": {"field": "x", "type": "quantitative"},
           "y": {"field": "y", "type": "quantitative"},
           "color": {"field": "s", "type": "nominal", "legend": null}
         }}
      ]
    },
    {
      "title": {"text": "R₁₀"},
      "width": 155, "height": 124,
      "layer": [
        {"data": {"name": "p3"}, "mark": {"type": "point"},
         "encoding": {
           "x": {"field": "x", "type": "quantitative", "scale": {"type": "log", "domain": [0.76, 1318], "nice": false}, "axis": {"values": [1,5,10,50,100,500,1000], "labelExpr": "datum.value == 100 || datum.value == 1000 ? '' : format(datum.value, 'd')", "offset": 1, "labelPadding": 4, "titlePadding": 8, "title": "τᵨ"}},
           "y": {"field": "y", "type": "quantitative", "scale": {"domain": [-0.00248, 0.0645], "nice": false, "zero": false}, "axis": {"values": [0,0.01,0.02,0.03,0.04,0.05,0.06], "labelExpr": "round(datum.value*100) % 2 == 0 ? format(datum.value, '.2f') : ''", "labelAngle": -90, "labelAlign": "center", "labelBaseline": "bottom", "labelPadding": 2, "titlePadding": 15, "title": "p(τᵨ)"}},
           "color": {"field": "s", "type": "nominal", "scale": {"domain": ["B","R"], "range": ["#0000FF","#FF0000"]}, "legend": null},
           "order": {"field": "s", "type": "nominal"}
         }},
        {"data": {"name": "c3"}, "mark": {"type": "line"},
         "encoding": {
           "x": {"field": "x", "type": "quantitative"},
           "y": {"field": "y", "type": "quantitative"},
           "color": {"field": "s", "type": "nominal", "legend": null}
         }}
      ]
    },
    {
      "title": {"text": "X", "fontWeight": "bold"},
      "width": 155, "height": 124,
      "layer": [
        {"data": {"name": "p4"}, "mark": {"type": "point"},
         "encoding": {
           "x": {"field": "x", "type": "quantitative", "scale": {"type": "log", "domain": [0.76, 1318], "nice": false}, "axis": {"values": [1,5,10,50,100,500,1000], "labelExpr": "datum.value == 100 || datum.value == 1000 ? '' : format(datum.value, 'd')", "offset": 1, "labelPadding": 4, "titlePadding": 8, "title": "τᵨ"}},
           "y": {"field": "y", "type": "quantitative", "scale": {"domain": [-0.0026, 0.0672], "nice": false, "zero": false}, "axis": {"values": [0,0.01,0.02,0.03,0.04,0.05,0.06], "labelExpr": "round(datum.value*100) % 2 == 0 ? format(datum.value, '.2f') : ''", "labelAngle": -90, "labelAlign": "center", "labelBaseline": "bottom", "labelPadding": 2, "titlePadding": 15, "title": "p(τᵨ)"}},
           "color": {"field": "s", "type": "nominal", "scale": {"domain": ["B","R"], "range": ["#0000FF","#FF0000"]}, "legend": null},
           "order": {"field": "s", "type": "nominal"}
         }},
        {"data": {"name": "c4"}, "mark": {"type": "line"},
         "encoding": {
           "x": {"field": "x", "type": "quantitative"},
           "y": {"field": "y", "type": "quantitative"},
           "color": {"field": "s", "type": "nominal", "legend": null}
         }}
      ]
    }
  ]
}
